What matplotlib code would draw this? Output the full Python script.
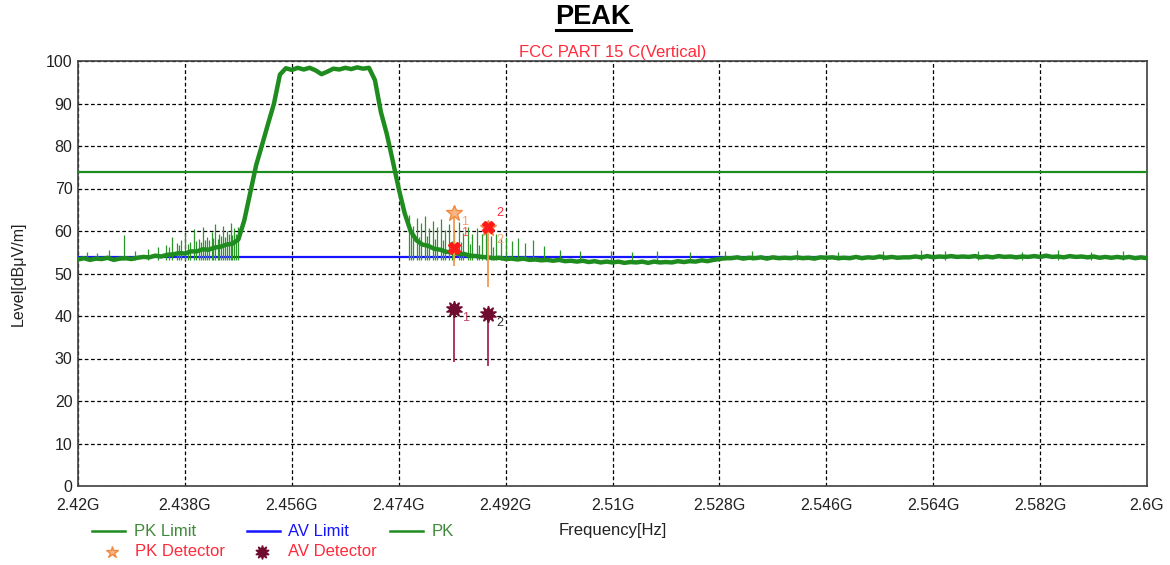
import numpy as np
import matplotlib.pyplot as plt
from matplotlib.lines import Line2D

plt.rcParams['font.family'] = ['Liberation Sans', 'DejaVu Sans']

W, H = 1170, 565

# PK trace, every 1 MHz (2.420 ... 2.600 GHz)
freq = np.round(np.linspace(2.42, 2.60, 181), 3)
pk = [
    53.3, 53.6, 53.2, 53.5, 53.4, 53.7, 53.2, 53.5, 53.6, 53.4,
    53.7, 53.9, 53.8, 54.2, 54.0, 54.4, 54.5, 54.8, 54.7, 55.2,
    55.2, 55.7, 55.6, 56.1, 56.3, 56.8, 57.0, 58.0, 62.5, 69.0,
    75.5, 80.3, 85.2, 90.0, 96.8, 98.3, 97.9, 98.4, 98.0, 98.4,
    97.8, 96.9, 97.5, 98.2, 98.0, 98.4, 98.1, 98.5, 98.2, 98.4,
    95.5, 88.0, 82.8, 76.5, 70.0, 64.2, 60.0, 57.8, 56.8, 56.5,
    55.8, 55.6, 55.1, 55.0, 54.6, 54.6, 54.2, 54.1, 53.9, 53.8,
    53.6, 53.7, 53.4, 53.5, 53.3, 53.5, 53.2, 53.3, 53.1, 53.2,
    53.0, 53.2, 52.9, 53.0, 52.8, 53.0, 52.7, 52.9, 52.6, 52.8,
    52.6, 52.8, 52.5, 52.7, 52.6, 52.8, 52.5, 52.8, 52.6, 52.7,
    52.6, 52.9, 52.7, 52.9, 52.8, 53.1, 52.9, 53.2, 53.4, 53.6,
    53.6, 53.8, 53.5, 53.7, 53.6, 53.8, 53.5, 53.8, 53.6, 53.7,
    53.6, 53.8, 53.6, 53.7, 53.5, 53.8, 53.7, 53.8, 53.6, 53.7,
    53.6, 53.9, 53.6, 53.8, 53.7, 54.0, 53.7, 53.9, 53.7, 53.8,
    53.8, 54.0, 53.8, 54.1, 53.8, 54.0, 53.9, 54.1, 53.9, 54.0,
    53.9, 54.1, 53.8, 54.0, 53.8, 54.1, 53.9, 54.0, 53.8, 54.0,
    53.9, 54.1, 53.9, 54.2, 53.9, 54.0, 53.8, 54.1, 53.9, 54.0,
    53.8, 54.0, 53.7, 53.9, 53.7, 53.9, 53.7, 53.9, 53.6, 53.8, 53.6,
]

# narrow spurs on the trace (GHz, dBuV/m top)
spur_freq = [
    2.4215, 2.4232, 2.4252, 2.4278, 2.4296, 2.4318, 2.4335, 2.4349, 2.4358, 2.4366,
    2.4374, 2.4381, 2.4389, 2.4396, 2.4403, 2.4411, 2.4418, 2.4425, 2.4431, 2.4438,
    2.4444, 2.4451, 2.4457, 2.4463, 2.4469,
    2.4354, 2.4370, 2.4385, 2.4399, 2.4407, 2.4414, 2.4421, 2.4428, 2.4435, 2.4441,
    2.4448, 2.4454, 2.4460, 2.4466,
    2.4758, 2.4764, 2.4771, 2.4777, 2.4784, 2.4791, 2.4797, 2.4804, 2.4811, 2.4818,
    2.4825, 2.4833, 2.4841, 2.4848, 2.4856, 2.4864, 2.4872, 2.4880, 2.4887, 2.4895,
    2.4903, 2.4912, 2.4921, 2.4930, 2.4941, 2.4953, 2.4966, 2.4985, 2.5012, 2.5045,
    2.5098, 2.5132, 2.5175, 2.5230, 2.5290, 2.5335, 2.5410, 2.5480, 2.5555, 2.5620,
    2.5660, 2.5715, 2.5790, 2.5850, 2.5905, 2.5960,
    2.4761, 2.4774, 2.4788, 2.4801, 2.4815, 2.4829, 2.4845, 2.4860, 2.4876, 2.4899,
]
spur_top = [
    55.0, 54.8, 55.6, 59.0, 55.2, 55.8, 56.2, 56.8, 58.6, 57.2,
    58.0, 59.6, 57.4, 60.4, 58.2, 61.0, 58.6, 59.8, 61.6, 59.2,
    61.2, 60.0, 61.8, 60.6, 61.0,
    56.2, 56.8, 57.0, 57.6, 57.4, 58.0, 57.8, 58.4, 58.2, 58.8,
    58.6, 59.2, 59.0, 59.4,
    63.8, 61.2, 63.0, 62.0, 63.6, 60.8, 62.4, 61.0, 62.8, 60.2,
    61.6, 60.4, 62.2, 59.6, 61.0, 59.2, 60.6, 59.4, 60.0, 58.8,
    59.2, 58.2, 58.6, 57.6, 58.4, 57.2, 57.8, 56.4, 55.6, 55.2,
    55.4, 55.0, 55.3, 55.1, 55.4, 55.2, 55.5, 55.0, 55.3, 55.6,
    55.4, 55.2, 55.0, 55.5, 55.1, 55.3,
    59.0, 58.6, 58.8, 58.2, 58.0, 57.6, 57.4, 57.0, 56.6, 56.2,
]
spur_floor = 53.2

limit_freq = [2.42, 2.60]
pk_limit = [74, 74]
av_limit = [54, 54]

# detector readings
det_freq = [2.4833, 2.4891]
mk_level = [56.0, 61.0]
pk_det = [64.2, 60.6]
pk_det_floor = [51.8, 46.8]
av_det = [41.6, 40.5]
av_det_floor = [29.2, 28.2]

xticks = [2.42, 2.438, 2.456, 2.474, 2.492, 2.51, 2.528, 2.546, 2.564, 2.582, 2.6]
xlabels = ['2.42G', '2.438G', '2.456G', '2.474G', '2.492G', '2.51G',
           '2.528G', '2.546G', '2.564G', '2.582G', '2.6G']
yticks = list(range(0, 101, 10))

GREEN = '#1f8c1f'
BLUE = '#1515ff'
ORANGE = '#f59a50'
MAROON = '#6e0b2e'
RED = '#ff2a3a'


def fx(x):
    return x / W


def fy(y):
    return 1 - y / H


fig = plt.figure(figsize=(W / 100, H / 100), dpi=100)
ax = fig.add_axes([fx(78), fy(486), fx(1147) - fx(78), fy(61) - fy(486)])

ax.plot(limit_freq, av_limit, color=BLUE, lw=1.6, zorder=3)
ax.vlines(spur_freq, spur_floor, spur_top, color='#2a962a', lw=0.9, zorder=4)
ax.plot(freq, pk, color=GREEN, lw=3.2, zorder=4)
ax.plot(limit_freq, pk_limit, color=GREEN, lw=1.6, zorder=4)

# detector stems + markers
ax.vlines(det_freq, pk_det_floor, pk_det, color=ORANGE, lw=1.3, zorder=5)
ax.vlines(det_freq, av_det_floor, av_det, color='#a8284e', lw=1.3, zorder=5)
ax.plot(det_freq, pk_det, ls='none', marker='*', ms=12, mfc='#fbb585',
        mec='#f08a40', mew=1, zorder=6)
ax.plot(det_freq, mk_level, ls='none', marker='X', ms=9, color='#ff1a1a', zorder=7)
ax.plot(det_freq, av_det, ls='none', marker=(10, 1, 0), ms=12, color=MAROON, zorder=6)


def tag(x, y, s, dx, dy, c):
    ax.annotate(s, (x, y), xytext=(dx, dy), textcoords='offset pixels',
                ha='center', va='center', fontsize=9, color=c, zorder=8)


tag(det_freq[0], pk_det[0], '1', 11, -9, '#f5a070')
tag(det_freq[0], mk_level[0], '1', 11, 15, '#ff5050')
tag(det_freq[1], mk_level[1], '2', 11, 14, RED)
tag(det_freq[1], pk_det[1], '2', 11, -12, '#f5a070')
tag(det_freq[0], av_det[0], '1', 12, -9, '#c04a6a')
tag(det_freq[1], av_det[1], '2', 11, -9, '#303030')

ax.set_xlim(2.42, 2.60)
ax.set_ylim(0, 100)
ax.set_xticks(xticks)
ax.set_xticklabels(xlabels)
ax.set_yticks(yticks)
ax.tick_params(axis='both', length=0, labelsize=11.5, colors='#222222')
ax.tick_params(axis='x', pad=9)
ax.tick_params(axis='y', pad=4)
ax.set_axisbelow(True)
ax.grid(color='black', ls=(0, (3, 2)), lw=0.9)
for s in ax.spines.values():
    s.set_color('#404040')
    s.set_linewidth(1.2)

ax.set_ylabel('Level[dBμV/m]', fontsize=11.5, color='#222222')
ax.yaxis.set_label_coords(-0.056, 0.5)
ax.yaxis.label.set_va('center')
ax.set_xlabel('Frequency[Hz]', fontsize=12, color='#222222')
ax.xaxis.set_label_coords(0.5, -0.105)
ax.xaxis.label.set_va('center')

# titles
fig.text(fx(593), fy(17), 'PEAK', ha='center', va='center', fontsize=19.5,
         fontweight='bold', color='black')
fig.add_artist(Line2D([fx(556), fx(631)], [fy(29.5), fy(29.5)], color='black', lw=2.2))
fig.text(fx(613), fy(52), 'FCC PART 15 C(Vertical)', ha='center', va='center',
         fontsize=12, color=RED)

# legend, drawn by hand like the original
legend_row = [(92, 125, GREEN, 'PK Limit', 134, '#3f8a3a'),
              (247, 280, BLUE, 'AV Limit', 288, BLUE),
              (390, 423, GREEN, 'PK', 432, '#3f8a3a')]
for x0, x1, lc, label, tx, tc in legend_row:
    fig.add_artist(Line2D([fx(x0), fx(x1)], [fy(531), fy(531)], color=lc, lw=1.8))
    fig.text(fx(tx), fy(531), label, ha='left', va='center', fontsize=12, color=tc)

fig.add_artist(Line2D([fx(112)], [fy(552)], ls='none', marker='*', ms=9,
                      mfc='#fbb585', mec='#f08a40'))
fig.text(fx(135), fy(552), 'PK Detector', ha='left', va='center', fontsize=12, color=RED)
fig.add_artist(Line2D([fx(262)], [fy(552)], ls='none', marker=(10, 1, 0), ms=10,
                      color=MAROON))
fig.text(fx(288), fy(552), 'AV Detector', ha='left', va='center', fontsize=12, color=RED)

fig.savefig('out.png', dpi=100)
plt.close(fig)
